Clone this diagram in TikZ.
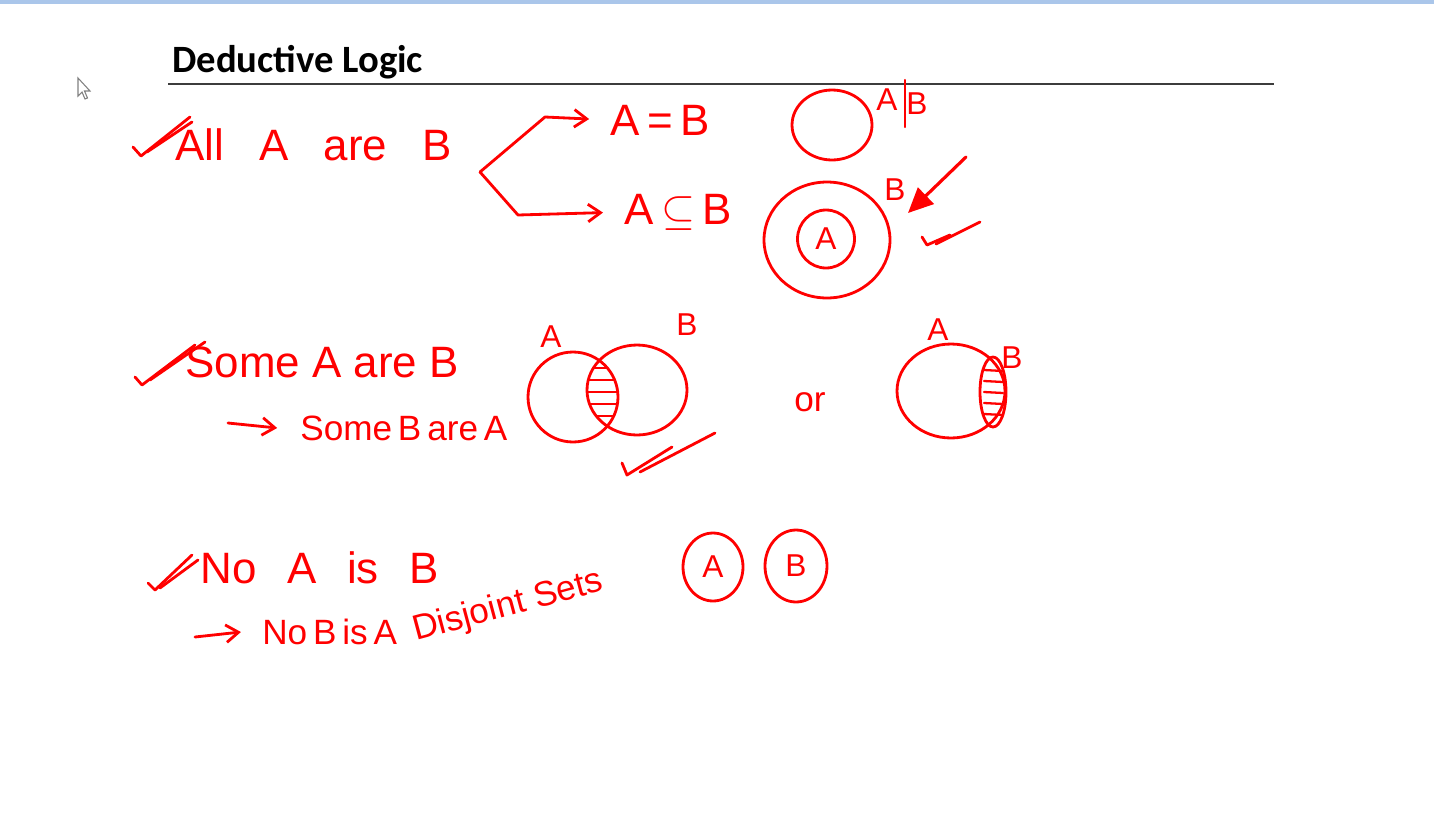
\documentclass[tikz,border=0pt]{standalone}
\usepackage{fontspec}
\setmainfont{Liberation Sans}
\newfontfamily\titlefont{Carlito}
\usetikzlibrary{arrows.meta,positioning,shapes.geometric}
\definecolor{inkred}{RGB}{255,0,0}
\definecolor{rulegray}{RGB}{60,60,60}
\definecolor{barblue}{RGB}{170,198,234}
\tikzset{
    hand/.style={
        text=inkred,
        inner sep=0pt,
        font=\fontsize{25}{30}\selectfont
    },
    handsmall/.style={
        text=inkred,
        inner sep=0pt,
        font=\fontsize{20}{24}\selectfont
    },
    lbl/.style={
        text=inkred,
        inner sep=0pt,
        font=\fontsize{18}{20}\selectfont
    },
    ink/.style={
        draw=inkred,
        line width=1.6pt,
        line cap=round,
        line join=round
    },
    set/.style={
        ink,
        ellipse,
        inner sep=0pt,
        text=inkred,
        font=\fontsize{18}{20}\selectfont
    },
    arrow/.style={
        ink,
        -{Straight Barb[length=2.5mm,width=3.5mm]}
    },
    hatch/.style={draw=inkred, line width=1.3pt, line cap=round}
}

\begin{document}
\begin{tikzpicture}[x=0.02cm, y=-0.02cm]
\useasboundingbox (0,0) rectangle (1434,812);
\fill[barblue] (0,0) rectangle (1434,4);

% mouse pointer
\draw[gray, fill=white, line width=0.6pt] (78,78) -- (78,96) -- (82,92) -- (85,99)
    -- (87.5,98) -- (84.5,91) -- (90,91) -- cycle;

% title and rule
\node[anchor=base west, inner sep=0pt, font=\titlefont\bfseries\fontsize{22}{26}\selectfont]
    (title) at (172,72) {Deductive Logic};
\coordinate (ruleL) at (168,84);
\coordinate (ruleR) at (1274,84);
\draw[rulegray, line width=0.9pt] (ruleL) -- (ruleR);

% All A are B
\node[hand, anchor=west] (allAB) at (175,145) {All\hspace{0.8em}A\hspace{0.8em}are\hspace{0.8em}B};
\draw[ink] (133,147) -- (141,156) -- (190,117);
\draw[ink] (147,152) -- (192,122);

\coordinate (fork) at (480,172);
\node[hand] (eq) at (660,120) {A\,=\,B};
\node[hand] (sub) at (678,212) {A$\,\subseteq\,$B};
\draw[arrow, shorten >=12pt] (fork) -- (545,117) -- (eq.west);
\draw[arrow, shorten >=12pt] (fork) -- (518,215) -- (sub.west);

\node[set, minimum width=1.6cm, minimum height=1.4cm] (eqset) at (832,125) {};
\node[lbl] (labA1) at (887,100) {A};
\node[lbl] (labB1) at (917,104) {B};
\coordinate (barT) at (905,80);
\coordinate (barB) at (905,127);
\draw[ink, line width=1.2pt] (barT) -- (barB);

\node[set, minimum width=2.52cm, minimum height=2.32cm] (outB) at (827,240) {};
\node[set, minimum width=1.14cm, minimum height=1.16cm] (inA) at (826,239) {A};
\node[lbl] (labB2) at (895,190) {B};
\coordinate (bigT) at (966,157);
\coordinate (bigH) at (908,213);
\draw[ink, line width=1.8pt, -{Triangle[length=5mm,width=4.5mm]}] (bigT) -- (bigH);
\draw[ink] (922,237) -- (927,245) -- (950,235);
\draw[ink] (936,244) -- (980,222);

% Some A are B
\node[hand, anchor=west] (someAB) at (185,362) {Some A are B};
\draw[ink] (135,377) -- (142,385) -- (195,345);
\draw[ink] (150,380) -- (205,342);
\coordinate (arr1) at (228,423);
\node[handsmall, anchor=west] (someBA) at (300,428) {Some\,B\,are\,A};
\draw[arrow] (arr1) -- ([xshift=-13pt]someBA.west);

\node[set, minimum width=1.8cm, minimum height=1.8cm] (vA) at (573,397) {};
\node[set, minimum width=2.0cm, minimum height=1.8cm] (vB) at (637,390) {};
\begin{scope}
    \clip (573,397) ellipse [x radius=45, y radius=45];
    \clip (637,390) ellipse [x radius=50, y radius=45];
    \foreach \y in {368,380,...,428}
        \draw[hatch] (580,\y) -- (630,\y);
\end{scope}
\node[lbl] (labA2) at (551,337) {A};
\node[lbl] (labB3) at (687,325) {B};
\draw[ink] (622,463) -- (627,475) -- (672,447);
\draw[ink] (640,472) -- (715,433);

\node[handsmall] (or) at (810,402) {or};

\node[set, minimum width=2.16cm, minimum height=1.88cm] (rA) at (951,391) {};
\node[set, minimum width=0.52cm, minimum height=1.4cm] (rB) at (993,392) {};
\begin{scope}
    \clip (993,392) ellipse [x radius=13, y radius=35];
    \foreach \y in {370,381,...,415}
        \draw[hatch] (984,\y) -- (1003,\y+1);
\end{scope}
\node[lbl] (labA3) at (938,330) {A};
\node[lbl] (labB4) at (1012,358) {B};

% No A is B
\node[hand, anchor=west] (noAB) at (200,568) {No\hspace{0.7em}A\hspace{0.7em}is\hspace{0.7em}B};
\draw[ink] (148,583) -- (155,590) -- (192,555);
\draw[ink] (160,588) -- (198,560);
\coordinate (arr2) at (195,637);
\node[handsmall, anchor=west] (noBA) at (262,632) {No\,B\,is\,A};
\draw[arrow] (arr2) -- ([xshift=-12pt]noBA.west);
\node[handsmall, anchor=base west, rotate=15] (disj) at (416,641) {Disjoint Sets};

\node[set, minimum width=1.2cm, minimum height=1.36cm] (dA) at (713,567) {A};
\node[set, minimum width=1.24cm, minimum height=1.44cm] (dB) at (796,566) {B};

\end{tikzpicture}
\end{document}
